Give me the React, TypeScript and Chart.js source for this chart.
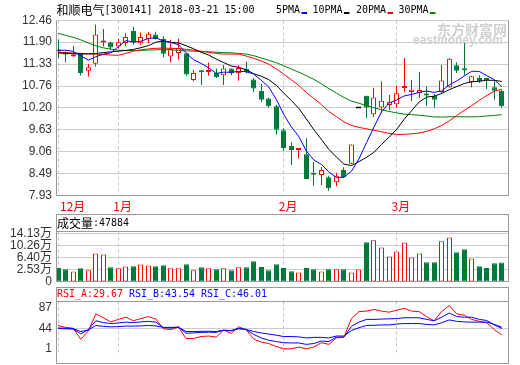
import React, { useEffect, useRef } from 'react';
import { Chart, registerables } from 'chart.js';

Chart.register(...registerables);

// ---------------- data ----------------
const STOCK_NAME = '和顺电气';
const STOCK_CODE = '300141';
const TIMESTAMP = '2018-03-21 15:00';

const MONTH_INDEX = [0, 8, 30, 45];
const MONTH_LABELS = ['12月', '1月', '2月', '3月'];

const OPEN = [
  11.71, 11.65, 11.53, 11.61, 11.16, 11.34, 11.89, 11.90, 11.79, 11.88,
  12.19, 11.87, 11.98, 12.10, 11.98, 11.53, 11.62, 11.61, 10.92, 11.16,
  11.13, 11.10, 11.04, 11.22, 11.10, 11.21, 10.93, 10.64, 10.44, 10.24,
  9.62, 9.22, 9.11, 9.00, 8.51, 8.46, 8.40, 8.27, 8.59, 8.75,
  10.18, 10.51, 10.03, 10.21, 10.27, 10.29, 10.71, 10.61, 10.58, 10.53,
  10.51, 10.61, 10.73, 11.30, 11.18, 10.87, 10.97, 10.95, 10.73, 10.64,
];
const HIGH = [
  11.97, 11.66, 11.80, 11.62, 11.34, 12.35, 12.24, 11.91, 11.98, 12.13,
  12.30, 12.15, 12.16, 12.17, 12.05, 11.96, 11.99, 11.62, 11.18, 11.17,
  11.37, 11.22, 11.31, 11.22, 11.30, 11.40, 10.97, 10.82, 10.47, 10.28,
  9.67, 9.31, 9.16, 9.41, 8.80, 8.66, 8.44, 8.52, 8.66, 9.25,
  10.18, 10.51, 10.72, 10.88, 10.53, 10.78, 11.49, 10.92, 11.13, 10.75,
  10.56, 11.31, 11.48, 11.38, 11.88, 11.03, 11.04, 10.97, 10.89, 10.67,
];
const LOW = [
  11.49, 11.38, 11.52, 11.03, 11.01, 11.27, 11.79, 11.70, 11.73, 11.80,
  11.83, 11.83, 11.87, 11.97, 11.51, 11.38, 11.45, 11.03, 10.89, 10.79,
  11.03, 10.97, 10.79, 11.04, 10.90, 11.09, 10.61, 10.35, 10.20, 9.50,
  9.08, 8.72, 8.89, 8.35, 8.18, 8.20, 8.05, 8.17, 8.38, 8.74,
  10.18, 9.93, 9.96, 10.06, 10.14, 10.20, 10.61, 10.37, 10.45, 10.25,
  10.20, 10.58, 10.72, 11.10, 11.05, 10.73, 10.84, 10.69, 10.41, 10.20,
];
const CLOSE = [
  11.66, 11.58, 11.58, 11.10, 11.25, 12.10, 11.91, 11.76, 11.90, 12.03,
  11.90, 12.03, 12.12, 11.98, 11.60, 11.72, 11.75, 11.06, 11.10, 11.12,
  11.17, 11.00, 11.22, 11.10, 11.23, 11.12, 10.70, 10.41, 10.24, 9.63,
  9.16, 9.11, 9.15, 8.36, 8.47, 8.59, 8.12, 8.44, 8.40, 9.25,
  10.18, 10.21, 10.47, 10.38, 10.36, 10.58, 10.74, 10.67, 10.66, 10.52,
  10.41, 10.91, 11.47, 11.16, 11.17, 11.02, 10.89, 10.92, 10.64, 10.24,
];

const MA_LABELS = ['5PMA', '10PMA', '20PMA', '30PMA'];
const MA5 = [
  11.69, 11.69, 11.66, 11.55, 11.434, 11.522, 11.588, 11.624, 11.784, 11.94,
  11.90, 11.924, 11.996, 12.012, 11.926, 11.89, 11.834, 11.622, 11.446, 11.35,
  11.24, 11.09, 11.122, 11.122, 11.144, 11.134, 11.074, 10.912, 10.74, 10.42,
  10.028, 9.71, 9.458, 9.082, 8.85, 8.736, 8.538, 8.396, 8.404, 8.56,
  8.878, 9.296, 9.702, 10.098, 10.32, 10.40, 10.506, 10.546, 10.602, 10.634,
  10.60, 10.634, 10.794, 10.894, 11.024, 11.146, 11.142, 11.032, 10.928, 10.742,
];
const MA10 = [
  11.62, 11.61, 11.60, 11.596, 11.596, 11.604, 11.63, 11.648, 11.666, 11.687,
  11.711, 11.756, 11.81, 11.898, 11.933, 11.895, 11.879, 11.809, 11.729, 11.638,
  11.565, 11.462, 11.372, 11.284, 11.247, 11.187, 11.082, 11.017, 10.931, 10.782,
  10.581, 10.392, 10.185, 9.911, 9.635, 9.382, 9.124, 8.927, 8.743, 8.705,
  8.807, 8.917, 9.049, 9.251, 9.44, 9.639, 9.901, 10.124, 10.35, 10.477,
  10.50, 10.57, 10.67, 10.748, 10.829, 10.873, 10.888, 10.913, 10.911, 10.883,
];
const MA20 = [
  11.635, 11.627, 11.617, 11.609, 11.596, 11.588, 11.583, 11.565, 11.56, 11.61,
  11.665, 11.70, 11.725, 11.74, 11.745, 11.74, 11.73, 11.715, 11.69, 11.663,
  11.638, 11.609, 11.591, 11.591, 11.59, 11.541, 11.481, 11.413, 11.33, 11.21,
  11.073, 10.927, 10.779, 10.598, 10.441, 10.285, 10.103, 9.972, 9.837, 9.744,
  9.694, 9.655, 9.617, 9.581, 9.538, 9.511, 9.513, 9.526, 9.547, 9.591,
  9.654, 9.744, 9.86, 10.0, 10.135, 10.256, 10.395, 10.519, 10.631, 10.68,
];
const MA30 = [
  12.128, 12.076, 12.024, 11.959, 11.881, 11.804, 11.752, 11.718, 11.692, 11.682,
  11.682, 11.687, 11.695, 11.70, 11.708, 11.70, 11.687, 11.674, 11.666, 11.656,
  11.648, 11.64, 11.63, 11.622, 11.609, 11.591, 11.55, 11.49, 11.43, 11.369,
  11.286, 11.203, 11.122, 11.031, 10.938, 10.821, 10.695, 10.584, 10.468, 10.375,
  10.318, 10.257, 10.202, 10.149, 10.107, 10.069, 10.036, 10.023, 10.008, 9.988,
  9.963, 9.96, 9.968, 9.97, 9.968, 9.965, 9.971, 9.988, 10.001, 10.022,
];

// volume in 万
const VOLUME = [
  3.05, 2.63, 1.89, 2.95, 2.30, 7.69, 7.36, 3.27, 2.95, 3.50,
  3.59, 4.14, 3.82, 3.59, 3.92, 2.95, 2.95, 4.24, 2.30, 3.27,
  2.95, 2.63, 2.95, 2.30, 3.27, 3.27, 5.20, 3.37, 2.30, 4.24,
  3.05, 1.98, 1.56, 3.05, 2.63, 1.89, 2.63, 2.63, 2.63, 1.56,
  2.53, 11.33, 11.97, 9.62, 6.72, 8.33, 11.23, 6.40, 7.69, 4.88,
  4.88, 11.65, 12.84, 8.10, 9.07, 6.07, 3.59, 3.05, 4.56, 4.7884,
];

const RSI_A = [
  49.8, 45.8, 44.0, 20.4, 38.0, 74.5, 66.2, 57.4, 62.7, 67.4,
  59.8, 64.4, 68.6, 63.4, 42.8, 41.0, 46.8, 22.2, 22.2, 26.4,
  27.5, 25.2, 40.0, 33.0, 46.8, 41.0, 21.1, 14.6, 11.6, 5.3,
  0.5, 0.5, 4.0, 0.5, 4.0, 13.4, 9.8, 23.4, 25.2, 64.4,
  79.2, 80.3, 83.8, 80.3, 78.0, 82.0, 86.3, 80.3, 79.2, 68.6,
  59.8, 79.2, 92.0, 74.5, 71.5, 62.7, 58.6, 55.6, 41.0, 29.67,
];
const RSI_B = [
  43.3, 42.8, 42.2, 32.2, 41.0, 59.8, 56.0, 53.9, 55.1, 56.9,
  56.0, 57.4, 58.6, 56.9, 45.1, 44.5, 46.3, 33.4, 34.0, 35.2,
  35.7, 35.2, 39.8, 38.5, 44.0, 41.0, 31.0, 23.4, 18.6, 15.8,
  13.4, 12.8, 12.8, 9.8, 11.6, 16.9, 15.8, 25.2, 25.2, 48.0,
  56.9, 62.7, 62.7, 63.4, 63.9, 64.4, 66.2, 66.2, 66.2, 62.7,
  59.8, 67.4, 76.2, 68.6, 67.4, 67.4, 62.7, 60.4, 51.0, 43.54,
];
const RSI_C = [
  44.5, 44.0, 43.3, 37.0, 40.1, 49.8, 48.0, 46.8, 47.5, 48.6,
  48.4, 48.9, 49.8, 48.9, 45.8, 45.8, 46.3, 37.0, 37.0, 37.5,
  37.5, 37.0, 39.8, 39.0, 42.8, 41.5, 37.0, 34.0, 31.7, 29.2,
  26.4, 26.4, 25.7, 23.4, 24.6, 24.6, 23.4, 27.5, 27.5, 39.2,
  45.1, 49.8, 50.3, 51.0, 51.0, 52.8, 53.9, 53.9, 53.9, 52.1,
  51.0, 55.6, 61.6, 58.6, 57.4, 56.9, 56.9, 56.9, 52.1, 46.01,
];

const PRICE_TICKS = [7.93, 8.49, 9.06, 9.63, 10.20, 10.76, 11.33, 11.90, 12.46];
const VOLUME_TICKS = [2.53, 6.40, 10.26, 14.13];
const RSI_TICKS = [1, 44, 87];

// ---------------- layout / style ----------------
const W = 520;
const H = 365;
const PLOT_LEFT = 56.5;
const PLOT_RIGHT = 508.5;
const X_MIN = -0.226;
const X_MAX = 59.888;
const PRICE_TOP = 20.5;
const PRICE_BOTTOM = 195.5;
const PRICE_MIN = 7.93;
const PRICE_MAX = 12.46;
const VOL_FRAME_TOP = 214.5;
const VOL_TOP = 231.5;
const VOL_BOTTOM = 281.5;
const VOL_MIN = -1.3367;
const VOL_MAX = 14.774;
const RSI_FRAME_TOP = 287.5;
const RSI_TOP = 301.5;
const RSI_BOTTOM = 363.5;
const RSI_MIN = -9.1;
const RSI_MAX = 100.6;

const RED = '#ff0000';
const GREEN = '#00793a';
const BLACK = '#000000';
const BLUE = '#0000ff';
const MA_GREEN = '#008000';
const GRID = '#cccccc';
const DASH = '#c4c4c4';
const FRAME = '#999999';
const TICK_TEXT = '#333333';
const WATERMARK = '#d0d0d0';
const CJK = '"Noto Sans CJK SC", sans-serif';
const MONO = '"DejaVu Sans Mono", "Liberation Mono", monospace';
const SANS = '"Liberation Sans", Arial, "Noto Sans CJK SC", sans-serif';

const IDX = CLOSE.map((_, i) => i);
const trend = (i: number) => (CLOSE[i] > OPEN[i] ? 1 : CLOSE[i] < OPEN[i] ? -1 : 0);
const CANDLE_STROKE = IDX.map((i) => (trend(i) > 0 ? RED : trend(i) < 0 ? GREEN : BLACK));
const CANDLE_FILL = IDX.map((i) => (trend(i) > 0 ? '#ffffff' : CANDLE_STROKE[i]));
const VOL_UP = IDX.map((i) => CLOSE[i] >= OPEN[i]);

// ---------------- drawing helpers ----------------
function cjkText(ctx: CanvasRenderingContext2D, text: string, x: number, y: number, color: string) {
  ctx.save();
  ctx.font = `12px ${CJK}`;
  ctx.fillStyle = color;
  ctx.textAlign = 'left';
  ctx.textBaseline = 'middle';
  ctx.fillText(text, x, y);
  ctx.restore();
}

function monoText(ctx: CanvasRenderingContext2D, text: string, x: number, y: number, color: string) {
  ctx.save();
  ctx.font = `11px ${MONO}`;
  ctx.fillStyle = color;
  ctx.textAlign = 'left';
  ctx.textBaseline = 'middle';
  const adv = ctx.measureText('0').width || 6;
  ctx.translate(x, y);
  ctx.scale(6 / adv, 1);
  ctx.fillText(text, 0, 0);
  ctx.restore();
}

function monthLines(chart: any) {
  const { ctx, chartArea: a, scales } = chart;
  const x = scales.x;
  ctx.save();
  ctx.setLineDash([3, 3]);
  ctx.strokeStyle = DASH;
  ctx.lineWidth = 1;
  MONTH_INDEX.forEach((m) => {
    const px = Math.floor(x.getPixelForValue(m)) + 0.5;
    ctx.beginPath();
    ctx.moveTo(px, a.top);
    ctx.lineTo(px, a.bottom);
    ctx.stroke();
  });
  ctx.restore();
}

function frameBox(ctx: CanvasRenderingContext2D, top: number, sep: number, bottom: number) {
  ctx.save();
  ctx.strokeStyle = FRAME;
  ctx.lineWidth = 1;
  ctx.strokeRect(PLOT_LEFT, top, PLOT_RIGHT - PLOT_LEFT, bottom - top);
  ctx.beginPath();
  ctx.moveTo(PLOT_LEFT, sep);
  ctx.lineTo(PLOT_RIGHT, sep);
  ctx.stroke();
  ctx.restore();
}

const snapPlugin = {
  id: 'snapBars',
  afterDatasetsUpdate(chart: any) {
    chart.data.datasets.forEach((_: any, di: number) => {
      const meta = chart.getDatasetMeta(di);
      if (meta.type !== 'bar') return;
      meta.data.forEach((el: any) => {
        el.x = Math.floor(el.x) + 0.5;
      });
    });
  },
};

const pricePlugin = {
  id: 'priceDecor',
  beforeDatasetsDraw(chart: any) {
    const { ctx } = chart;
    ctx.save();
    ctx.fillStyle = WATERMARK;
    ctx.textAlign = 'left';
    ctx.textBaseline = 'middle';
    ctx.font = `bold 14px ${CJK}`;
    ctx.fillText('东方财富网', 437, 29.5);
    ctx.font = 'bold 12px "Liberation Sans", Arial, sans-serif';
    ctx.fillText('eastmoney.com', 413, 40.5);
    ctx.restore();
    monthLines(chart);
  },
  afterDraw(chart: any) {
    const { ctx, scales } = chart;
    ctx.save();
    ctx.strokeStyle = FRAME;
    ctx.lineWidth = 1;
    ctx.beginPath();
    ctx.moveTo(PLOT_LEFT, PRICE_TOP);
    ctx.lineTo(PLOT_LEFT, PRICE_BOTTOM);
    ctx.lineTo(PLOT_RIGHT, PRICE_BOTTOM);
    ctx.lineTo(PLOT_RIGHT, PRICE_TOP);
    ctx.stroke();

    ctx.font = `12px ${CJK}`;
    ctx.fillStyle = RED;
    ctx.textAlign = 'left';
    ctx.textBaseline = 'middle';
    MONTH_INDEX.forEach((m, k) => {
      const px = Math.max(scales.x.getPixelForValue(m) - 5, PLOT_LEFT + 3.5);
      ctx.fillText(MONTH_LABELS[k], px, 206);
    });
    ctx.restore();

    cjkText(ctx, STOCK_NAME, 56.5, 10, BLACK);
    monoText(ctx, `[${STOCK_CODE}] ${TIMESTAMP}`, 104.5, 10, BLACK);
    const colors = [BLUE, BLACK, RED, MA_GREEN];
    const xs = [276, 312.5, 356, 398.5];
    MA_LABELS.forEach((lab, k) => {
      monoText(ctx, lab, xs[k], 10, BLACK);
      ctx.save();
      ctx.fillStyle = colors[k];
      ctx.fillRect(xs[k] + lab.length * 6 + 1.5, 12, 5.5, 2);
      ctx.restore();
    });
  },
};

const volPlugin = {
  id: 'volDecor',
  beforeDatasetsDraw(chart: any) {
    monthLines(chart);
  },
  afterDraw(chart: any) {
    const { ctx } = chart;
    frameBox(ctx, VOL_FRAME_TOP, VOL_TOP, VOL_BOTTOM);
    cjkText(ctx, '成交量', 57, 223, BLACK);
    monoText(ctx, ':' + Math.round(VOLUME[VOLUME.length - 1] * 10000), 93, 223, BLACK);
  },
};

const rsiPlugin = {
  id: 'rsiDecor',
  beforeDatasetsDraw(chart: any) {
    monthLines(chart);
  },
  afterDraw(chart: any) {
    const { ctx } = chart;
    frameBox(ctx, RSI_FRAME_TOP, RSI_TOP, RSI_BOTTOM);
    const last = RSI_A.length - 1;
    monoText(ctx, 'RSI_A:' + RSI_A[last].toFixed(2), 57, 294.5, RED);
    monoText(ctx, 'RSI_B:' + RSI_B[last].toFixed(2), 129, 294.5, BLUE);
    monoText(ctx, 'RSI_C:' + RSI_C[last].toFixed(2), 201, 294.5, BLUE);
  },
};

// ---------------- config builders ----------------
const xAxis = () => ({ type: 'linear', min: X_MIN, max: X_MAX, display: false, offset: false });

function yAxis(min: number, max: number, ticks: number[], fmt: (v: number) => string, gridColor: any) {
  return {
    type: 'linear',
    min,
    max,
    afterFit: (s: any) => {
      s.width = PLOT_LEFT;
    },
    afterBuildTicks: (s: any) => {
      s.ticks = ticks.map((v) => ({ value: v }));
    },
    ticks: {
      callback: (v: any) => fmt(Number(v)),
      padding: 4.5,
      color: TICK_TEXT,
      font: { family: SANS, size: 12 },
      autoSkip: false,
      maxRotation: 0,
    },
    grid: { color: gridColor, drawTicks: false, lineWidth: 1 },
    border: { display: false },
  };
}

const baseOptions = (top: number, bottom: number, y: any) => ({
  responsive: false,
  animation: false,
  devicePixelRatio: 1,
  events: [],
  layout: { padding: { left: 0, right: W - PLOT_RIGHT, top, bottom: H - bottom } },
  plugins: { legend: { display: false }, tooltip: { enabled: false }, title: { display: false } },
  scales: { x: xAxis(), y },
});

const barCommon = {
  grouped: false,
  barPercentage: 1,
  categoryPercentage: 1,
  inflateAmount: 0,
};

const maLine = (data: number[], color: string) => ({
  type: 'line',
  data: data.map((v, i) => ({ x: i, y: v })),
  borderColor: color,
  borderWidth: 1,
  pointRadius: 0,
  tension: 0,
  fill: false,
  order: 0,
});

function priceConfig(): any {
  return {
    type: 'bar',
    data: {
      datasets: [
        {
          type: 'bar',
          data: IDX.map((i) => ({ x: i, y: [LOW[i], HIGH[i]] })),
          backgroundColor: CANDLE_STROKE,
          borderWidth: 0,
          barThickness: 1,
          maxBarThickness: 1,
          order: 2,
          ...barCommon,
        },
        {
          type: 'bar',
          data: IDX.map((i) => ({ x: i, y: [OPEN[i], CLOSE[i]] })),
          backgroundColor: CANDLE_FILL,
          borderColor: CANDLE_STROKE,
          borderWidth: 1,
          borderSkipped: false,
          barThickness: 5,
          maxBarThickness: 5,
          minBarLength: 2,
          order: 1,
          ...barCommon,
        },
        maLine(MA5, BLUE),
        maLine(MA10, BLACK),
        maLine(MA20, RED),
        maLine(MA30, MA_GREEN),
      ],
    },
    options: baseOptions(
      PRICE_TOP,
      PRICE_BOTTOM,
      yAxis(PRICE_MIN, PRICE_MAX, PRICE_TICKS, (v) => v.toFixed(2), GRID)
    ),
    plugins: [snapPlugin, pricePlugin],
  };
}

function volConfig(): any {
  return {
    type: 'bar',
    data: {
      datasets: [
        {
          type: 'bar',
          data: IDX.map((i) => ({ x: i, y: [VOL_MIN, VOLUME[i]] })),
          backgroundColor: IDX.map((i) => (VOL_UP[i] ? '#ffffff' : GREEN)),
          borderColor: IDX.map((i) => (VOL_UP[i] ? RED : GREEN)),
          borderWidth: 1,
          borderSkipped: false,
          barThickness: 5,
          maxBarThickness: 5,
          ...barCommon,
        },
      ],
    },
    options: baseOptions(
      VOL_TOP,
      VOL_BOTTOM,
      yAxis(VOL_MIN, VOL_MAX, [VOL_MIN, ...VOLUME_TICKS], (v) => (v <= VOL_MIN + 1e-6 ? '0' : v.toFixed(2) + '万'), GRID)
    ),
    plugins: [snapPlugin, volPlugin],
  };
}

function rsiConfig(): any {
  return {
    type: 'line',
    data: {
      datasets: [maLine(RSI_C, BLUE), maLine(RSI_B, BLUE), maLine(RSI_A, RED)],
    },
    options: baseOptions(
      RSI_TOP,
      RSI_BOTTOM,
      yAxis(RSI_MIN, RSI_MAX, RSI_TICKS, (v) => String(Math.round(v)), (c: any) =>
        c.tick && c.tick.value === 44 ? GRID : 'rgba(0,0,0,0)'
      )
    ),
    plugins: [rsiPlugin],
  };
}

export default function App() {
  const priceRef = useRef<HTMLCanvasElement>(null);
  const volRef = useRef<HTMLCanvasElement>(null);
  const rsiRef = useRef<HTMLCanvasElement>(null);

  useEffect(() => {
    const charts = [
      new Chart(priceRef.current as HTMLCanvasElement, priceConfig()),
      new Chart(volRef.current as HTMLCanvasElement, volConfig()),
      new Chart(rsiRef.current as HTMLCanvasElement, rsiConfig()),
    ];
    return () => charts.forEach((c) => c.destroy());
  }, []);

  const canvasStyle: React.CSSProperties = { position: 'absolute', left: 0, top: 0, width: W, height: H };
  return (
    <div style={{ position: 'fixed', left: 0, top: 0, width: W, height: H, background: '#ffffff', overflow: 'hidden' }}>
      <canvas ref={priceRef} width={W} height={H} style={canvasStyle} />
      <canvas ref={volRef} width={W} height={H} style={canvasStyle} />
      <canvas ref={rsiRef} width={W} height={H} style={canvasStyle} />
    </div>
  );
}
